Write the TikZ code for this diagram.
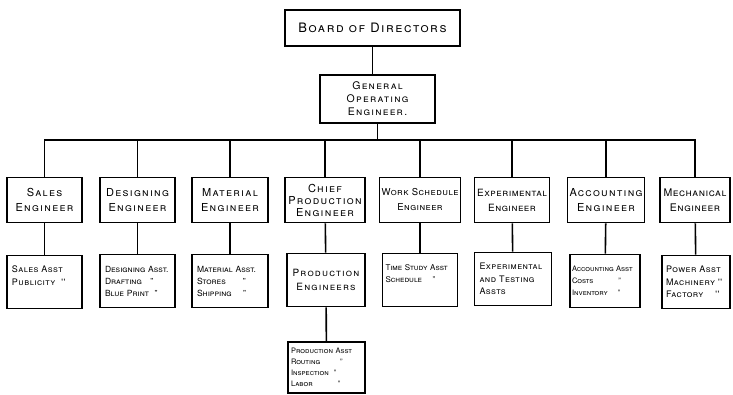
\documentclass[tikz,border=0pt]{standalone}
\usepackage{fontspec}
\setmainfont{TeX Gyre Heros}
\newfontfamily\widefont[LetterSpace=12]{TeX Gyre Heros}
\newfontfamily\midfont[LetterSpace=5]{TeX Gyre Heros}
\begin{document}
\begin{tikzpicture}[x=1pt, y=-1pt, line width=1.6pt,
    topbox/.style={rectangle, draw, align=center, font=\widefont\fontsize{13}{13}\selectfont\scshape},
    engbox/.style={rectangle, draw, align=center, minimum width=75pt, minimum height=45pt, inner sep=2pt, font=\widefont\fontsize{11}{15}\selectfont\scshape},
    asstbox/.style={rectangle, draw, align=left, text width=65pt, inner xsep=5pt, minimum height=53pt, font=\midfont\fontsize{9}{12.5}\selectfont\scshape}]
  \useasboundingbox (0,0) rectangle (733,394);

  % Nodes
  \node (board) [topbox, minimum width=175pt, minimum height=36pt] at (372.5,28) {Board of Directors};
  \node (goe) [topbox, minimum width=115pt, minimum height=48pt, font=\widefont\fontsize{10.5}{13}\selectfont\scshape] at (377.5,99) {General\\Operating\\Engineer.};
  \coordinate (bus) at (0,140);

  \node (sales) [engbox] at (44.5,200) {Sales\\Engineer};
  \node (design) [engbox] at (137.5,200) {Designing\\Engineer};
  \node (material) [engbox, minimum width=76pt] at (230,200) {Material\\Engineer};
  \node (chief) [engbox, minimum width=80pt, font=\widefont\fontsize{11}{12}\selectfont\scshape] at (325,200) {Chief\\Production\\Engineer};
  \node (work) [engbox, font=\midfont\fontsize{9.5}{15}\selectfont\scshape] at (420,200) {Work Schedule\\Engineer};
  \node (exper) [engbox, font=\midfont\fontsize{10}{15}\selectfont\scshape] at (512,200) {Experimental\\Engineer};
  \node (account) [engbox, minimum width=73pt] at (606,200) {Accounting\\Engineer};
  \node (mech) [engbox, minimum width=70pt, font=\midfont\fontsize{10.5}{15}\selectfont\scshape] at (695,200) {Mechanical\\Engineer};

  \node (salesasst) [asstbox] at (44.5,282) {Sales Asst\\Publicity~~''\\~};
  \node (designasst) [asstbox, font=\fontsize{8.5}{12}\selectfont\scshape] at (137.5,281) {Designing Asst.\\Drafting~~~''\\Blue Print~~''};
  \node (materialasst) [asstbox, text width=66pt, font=\fontsize{8.5}{12}\selectfont\scshape] at (230,281) {Material Asst.\\Stores~~~~~~''\\Shipping~~~~''};
  \node (prodeng) [asstbox, text width=68pt, align=center, font=\widefont\fontsize{10}{14}\selectfont\scshape] at (326,280) {Production\\Engineers};
  \node (timeasst) [asstbox, text width=69pt, inner xsep=3pt, font=\fontsize{8}{12.5}\selectfont\scshape] at (420,280) {Time Study Asst\\Schedule~~~~''\\~};
  \node (experasst) [asstbox, text width=67pt] at (513,279) {Experimental\\and Testing\\Assts};
  \node (accountasst) [asstbox, text width=66pt, inner xsep=2pt, font=\fontsize{7.5}{12}\selectfont\scshape] at (605,281) {Accounting Asst\\Costs~~~~~~~~~~''\\Inventory~~~~''};
  \node (mechasst) [asstbox, text width=60pt, inner xsep=4pt] at (696,282) {Power Asst\\Machinery~''\\Factory~~~~''};

  \node (prodasst) [asstbox, text width=71pt, inner xsep=3pt, minimum height=51pt, font=\fontsize{7.5}{11}\selectfont\scshape] at (326.5,367.5) {Production Asst\\Routing~~~~~~~~''\\Inspection~~''\\Labor~~~~~~~~~~''};

  % Lines
  \draw (board) -- (board |- goe.north);
  \foreach \n in {sales,design,material,chief,work,exper,account,mech}
    \draw (goe.south) -- (goe.south |- bus) -| (\n.north);
  \draw (sales) -- (salesasst);
  \draw (design) -- (designasst);
  \draw (material) -- (materialasst);
  \draw (chief) -- (prodeng);
  \draw (work) -- (timeasst);
  \draw (exper) -- (experasst);
  \draw (account) -- (accountasst);
  \draw (mech) -- (mechasst);
  \draw (prodeng) -- (prodasst);
\end{tikzpicture}
\end{document}
